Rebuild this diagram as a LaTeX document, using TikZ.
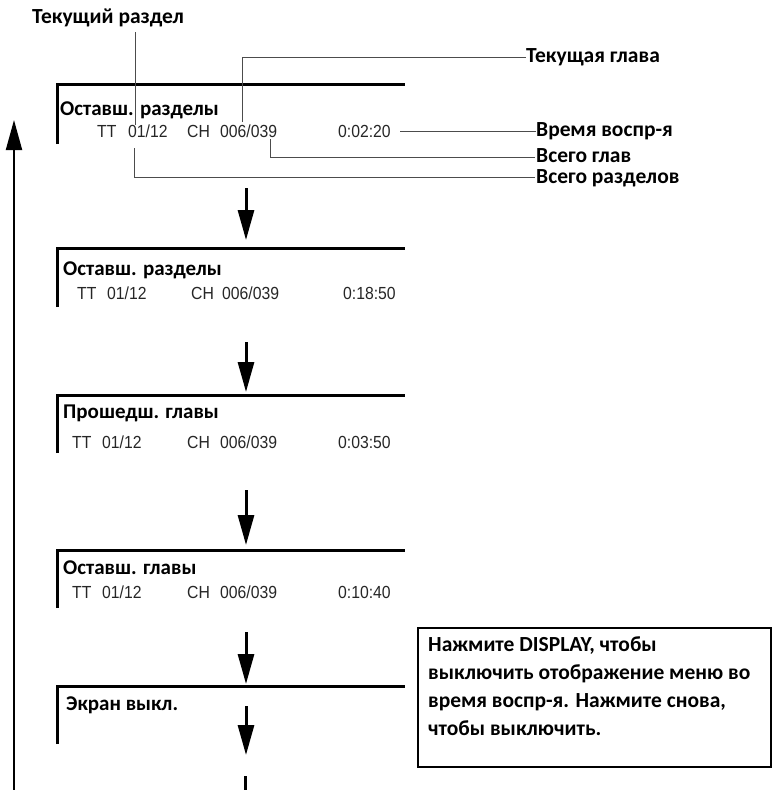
\documentclass[tikz,border=0pt]{standalone}
\usepackage{fontspec}
\setmainfont{Carlito}
\newfontfamily\datafont[FakeStretch=0.9]{Liberation Sans}
\usetikzlibrary{arrows.meta}
\begin{document}
\begin{tikzpicture}[x=1pt,y=-1pt,
 lbl/.style={font=\bfseries\fontsize{21.5}{24}\selectfont, anchor=west, inner sep=0pt},
 ttl/.style={font=\bfseries\fontsize{21}{24}\selectfont, anchor=west, inner sep=0pt},
 dat/.style={font=\datafont\fontsize{17.5}{20}\selectfont, anchor=west, inner sep=0pt, text=black!85},
 bar/.style={line width=3pt, line join=miter},
 lead/.style={line width=1pt, draw=black!70},
 flow/.style={line width=3pt, -{Triangle[width=16pt,length=30pt]}},
 loopar/.style={line width=2pt, -{Triangle[width=16pt,length=30pt]}},
 note/.style={font=\bfseries\fontsize{21.5}{28}\selectfont, anchor=north west, align=left, inner sep=0pt},
]
\useasboundingbox (0,0) rectangle (772,790);

% panels
\draw[bar] (57,144) |- (405,84);
\draw[bar] (57,307) |- (405,248);
\draw[bar] (57,453) |- (405,395);
\draw[bar] (57,608) |- (405,550);
\draw[bar] (57,744) |- (405,686);

% panel 1
\node[ttl] (t1) at (60,110) {Оставш. разделы};
\node[dat] (p1tt) at (97,131) {TT};
\node[dat] (p1tn) at (128,131) {01/12};
\node[dat] (p1ch) at (187,131) {CH};
\node[dat] (p1cn) at (220,131) {006/039};
\node[dat] (p1tm) at (338,131) {0:02:20};

% panel 2
\node[ttl] (t2) at (63,270) {Оставш. разделы};
\node[dat] (p2tt) at (77,293) {TT};
\node[dat] (p2tn) at (107,293) {01/12};
\node[dat] (p2ch) at (191,293) {CH};
\node[dat] (p2cn) at (222,293) {006/039};
\node[dat] (p2tm) at (343,293) {0:18:50};

% panel 3
\node[ttl] (t3) at (63,413) {Прошедш. главы};
\node[dat] (p3tt) at (72,442) {TT};
\node[dat] (p3tn) at (102,442) {01/12};
\node[dat] (p3ch) at (187,442) {CH};
\node[dat] (p3cn) at (220,442) {006/039};
\node[dat] (p3tm) at (338,442) {0:03:50};

% panel 4
\node[ttl] (t4) at (63,568) {Оставш. главы};
\node[dat] (p4tt) at (72,592) {TT};
\node[dat] (p4tn) at (102,592) {01/12};
\node[dat] (p4ch) at (187,592) {CH};
\node[dat] (p4cn) at (220,592) {006/039};
\node[dat] (p4tm) at (338,592) {0:10:40};

% panel 5
\node[ttl] (t5) at (66,705) {Экран выкл.};

% callout labels
\node[lbl] (lsec) at (32,18) {Текущий раздел};
\node[lbl] (lch) at (526,57) {Текущая глава};
\node[lbl] (ltime) at (536,131) {Время воспр-я};
\node[lbl, anchor=base west] (ltch) at (536,162) {Всего глав};
\node[lbl, anchor=base west] (ltsec) at (536,183) {Всего разделов};

% leader lines
\coordinate (s1) at (135,32);
\coordinate (s2) at (135,125);
\draw[lead] (s1) -- (s2);
\coordinate (c1) at (242,122);
\draw[lead] (c1) |- (lch.west);
\coordinate (m1) at (400,131);
\draw[lead] (m1) -- (ltime.west);
\coordinate (g1) at (270,139);
\coordinate (g2) at (535,157);
\draw[lead] (g1) |- (g2);
\coordinate (r1) at (134,148);
\coordinate (r2) at (535,177);
\draw[lead] (r1) |- (r2);

% flow arrows
\coordinate (a1s) at (246,188); \coordinate (a1e) at (246,240);
\coordinate (a2s) at (246,342); \coordinate (a2e) at (246,392);
\coordinate (a3s) at (246,490); \coordinate (a3e) at (246,545);
\coordinate (a4s) at (246,632); \coordinate (a4e) at (246,684);
\coordinate (a5s) at (246,706); \coordinate (a5e) at (246,755);
\draw[flow] (a1s) -- (a1e);
\draw[flow] (a2s) -- (a2e);
\draw[flow] (a3s) -- (a3e);
\draw[flow] (a4s) -- (a4e);
\draw[flow] (a5s) -- (a5e);
\coordinate (b1) at (245,776); \coordinate (b2) at (245,790);
\draw[line width=3pt] (b1) -- (b2);

% loop-back arrow
\coordinate (l1) at (14,790); \coordinate (l2) at (14,120);
\draw[loopar] (l1) -- (l2);

% note box
\coordinate (nb1) at (418,628); \coordinate (nb2) at (771,767);
\draw[line width=2pt] (nb1) rectangle (nb2);
\node[note] (nt) at (428,636) {Нажмите DISPLAY, чтобы\\выключить отображение меню во\\время воспр-я. Нажмите снова,\\чтобы выключить.};
\end{tikzpicture}
\end{document}
